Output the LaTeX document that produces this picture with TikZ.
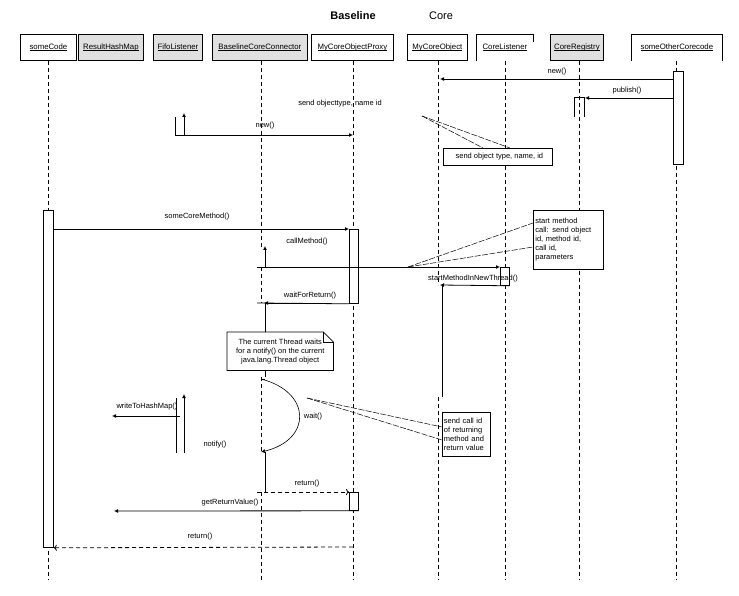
\documentclass[tikz,border=0pt]{standalone}
\usepackage{fontspec}
\setmainfont{Liberation Sans}
\usetikzlibrary{arrows.meta}
\newcommand\hdrul[1]{\leavevmode\setbox0\hbox{#1}\rlap{\rule[-1.3pt]{\wd0}{0.6pt}}\box0}
\begin{document}
\begin{tikzpicture}[x=1pt,y=-1pt,
  every node/.style={font=\fontsize{7.5}{9}\selectfont, inner sep=1pt},
  hdr/.style={draw, line width=0.8pt, minimum height=26pt, anchor=north west, inner sep=0pt, font=\fontsize{7.8}{9}\selectfont},
  grey/.style={fill=black!12},
  life/.style={line width=0.7pt, dash pattern=on 4pt off 3pt},
  ln/.style={line width=0.8pt},
  msg/.style={line width=0.8pt, -{Latex[length=4pt,width=4pt]}},
  ret/.style={line width=0.8pt, dash pattern=on 4pt off 3pt, -{To[length=3pt,width=6pt]}},
  act/.style={draw, line width=0.8pt, fill=white, inner sep=0pt, anchor=north west},
  note/.style={draw, line width=0.8pt, fill=white, align=left, anchor=north west, inner sep=0pt},
  notelink/.style={line width=0.5pt, dash pattern=on 6pt off 1.5pt}
]
\useasboundingbox (0,0) rectangle (739,596);
% titles
\node[font=\fontsize{11}{13}\selectfont\bfseries] (tBase) at (353,16) {Baseline};
\node[font=\fontsize{11}{13}\selectfont] (tCore) at (441,16) {Core};
% headers
\node[hdr,minimum width=56pt] (hsc) at (20,34) {\hdrul{someCode}};
\node[hdr,grey,minimum width=65pt] (hrh) at (78,34) {\hdrul{ResultHashMap}};
\node[hdr,grey,minimum width=49pt] (hfl) at (153,34) {\hdrul{FifoListener}};
\node[hdr,grey,minimum width=95pt] (hbc) at (212,34) {\hdrul{BaselineCoreConnector}};
\node[hdr,minimum width=82pt] (hpx) at (311,34) {\hdrul{MyCoreObjectProxy}};
\node[hdr,minimum width=60pt] (hmo) at (407,34) {\hdrul{MyCoreObject}};
\node[hdr,draw=none,minimum width=57pt] (hcl) at (476,34) {\hdrul{CoreListener}};
\draw[ln] (hcl.south west) -- (hcl.north west) -- (hcl.north east) -- ++(0,8);
\node[hdr,grey,minimum width=53pt] (hcr) at (550,34) {\hdrul{CoreRegistry}};
\node[hdr,draw=none,minimum width=91pt] (hoc) at (631,34) {\hdrul{someOtherCorecode}};
\draw[ln] (hoc.south west) -- (hoc.north west) -- (hoc.north east) -- (hoc.south east);
% lifeline x positions
\coordinate (Lsc) at (48,61);
\coordinate (Lbc) at (261,61);
\coordinate (Lpx) at (353,61);
\coordinate (Lmo) at (438,61);
\coordinate (Lcl) at (505,61);
\coordinate (Lcr) at (579,61);
\coordinate (Loc) at (676,61);
% lifelines
\draw[life] (Lsc) -- (48,580);
\draw[life] (Lbc) -- (261,247);
\draw[life] (261,267) -- (261,303);
\draw[life] (261,377) -- (261,452);
\draw[life] (261,492) -- (261,580);
\draw[life] (Lpx) -- (353,580);
\draw[life] (Lmo) -- (438,285);
\draw[life] (438,397) -- (438,580);
\draw[life] (Lcl) -- (505,580);
\draw[life] (Lcr) -- (579,580);
\draw[life] (Loc) -- (676,580);
% activations
\node[act,minimum width=10pt,minimum height=93pt] (aoc) at (673,71) {};
\node[act,minimum width=10pt,minimum height=337pt] (asc) at (43,210) {};
\node[act,minimum width=9pt,minimum height=74pt] (apx1) at (349,229) {};
\node[act,minimum width=9pt,minimum height=18pt] (acl) at (500,267) {};
\node[act,minimum width=9pt,minimum height=18pt] (apx2) at (349,492) {};
% CoreRegistry open activation
\coordinate (cr1) at (574,117);
\coordinate (cr2) at (584,117);
\draw[ln] (cr1) -- (574,97) -- (584,97) -- (cr2);
% messages top
\draw[msg] (aoc.west |- 0,79) -- (440,79) coordinate (mnew);
\node (lnew) at (557,72) {new()};
\draw[msg] (aoc.west |- 0,98) -- (585,98);
\node (lpub) at (627,91) {publish()};
% FifoListener creation
\coordinate (fl1) at (175,117);
\draw[ln] (fl1) -- (175,135);
\draw[msg] (184,135) -- (184,113);
\draw[msg] (175,135) -- (353,135);
\node (lnew2) at (265,126) {new()};
\node (lsend) at (340,104) {send objecttype, name id};
% note 1
\node[note,minimum width=109pt,minimum height=17pt] (n1) at (443,148) {\hspace{3pt}send object type, name, id};
\coordinate (n1p) at (422,116);
\draw[notelink] (n1p) -- (n1.north west -| 483,0);
\draw[notelink] (n1p) -- (n1.north west -| 510,0);
% someCoreMethod
\draw[msg] (asc.east |- 0,229) -- (apx1.north west);
\node (lscm) at (197,217) {someCoreMethod()};
% callMethod
\draw[msg] (265,267) -- (265,246);
\draw[msg] (257,267) -- (acl.north west);
\node (lcm) at (307,242) {callMethod()};
% note 2
\node[note,minimum width=70pt,minimum height=59pt,anchor=north west,text width=66pt,inner sep=2pt] (n2) at (533,210) {start method\\call: send object\\id, method id,\\call id,\\parameters};
\coordinate (n2p) at (408,267);
\draw[notelink] (n2p) -- (n2.west |- 0,223);
\draw[notelink] (n2p) -- (n2.west |- 0,247);
% startMethodInNewThread
\draw[msg] (acl.south east) -- (440,285);
\node (lsm) at (473,279) {startMethodInNewThread()};
\draw[ln] (442,285) -- (442,397);
% waitForReturn
\draw[ln] (apx1.south west) -- (257,303);
\draw[msg] (300,303) -- (264,303);
\node (lwr) at (310,296) {waitForReturn()};
\draw[ln] (265,303) -- (265,332);
% note 3 with folded corner
\node[align=center,minimum width=106pt,minimum height=38pt,inner sep=0pt,anchor=north west] (n3) at (227,332) {The current Thread waits\\for a notify() on the current\\java.lang.Thread object};
\draw[ln,fill=white] (n3.south west) -- (n3.north west) -- ([xshift=-10pt]n3.north east) -- ([yshift=-10pt]n3.north east) -- (n3.south east) -- cycle;
\draw[ln] ([xshift=-10pt]n3.north east) -- ([xshift=-10pt,yshift=-10pt]n3.north east) -- ([yshift=-10pt]n3.north east);
\node[align=center,minimum width=106pt,minimum height=38pt,inner sep=0pt,anchor=north west] at (227,332) {The current Thread waits\\for a notify() on the current\\java.lang.Thread object};
\draw[ln] (n3.south -| 265,0) -- (265,377);
% wait / notify curve
\coordinate (wtop) at (261,379);
\coordinate (wbot) at (261,452);
\draw[ln] (265,379) -- (wtop);
\draw[line width=0.6pt, -{Latex[length=4pt,width=4pt]}] (wtop) .. controls (312,392) and (312,440) .. (wbot);
\node (lwait) at (313,417) {wait()};
\node (lnot) at (215,445) {notify()};
\draw[ln] (265,452) -- (265,492);
% note 4
\node[note,minimum width=48pt,minimum height=44pt,text width=45pt,inner sep=1.5pt] (n4) at (442,412) {send call id\\of returning\\method and\\return value};
\coordinate (n4p) at (307,398);
\draw[notelink] (n4p) -- (n4.west |- 0,427);
\draw[notelink] (n4p) -- (n4.west |- 0,440);
% FifoListener writeToHashMap
\coordinate (fl2) at (176,398);
\draw[ln] (fl2) -- (176,453);
\draw[msg] (184,453) -- (184,394);
\draw[msg] (180,416) -- (112,416);
\node (lwh) at (147,407) {writeToHashMap()};
% return to proxy
\draw[ret] (257,492) -- (apx2.north west);
\node (lret1) at (307,484) {return()};
% getReturnValue
\draw[msg] (apx2.south east) -- (114,511);
\node (lgrv) at (230,503) {getReturnValue()};
% final return
\draw[ret] (353,547) -- (asc.south east);
\node (lret2) at (200,537) {return()};
\end{tikzpicture}
\end{document}
